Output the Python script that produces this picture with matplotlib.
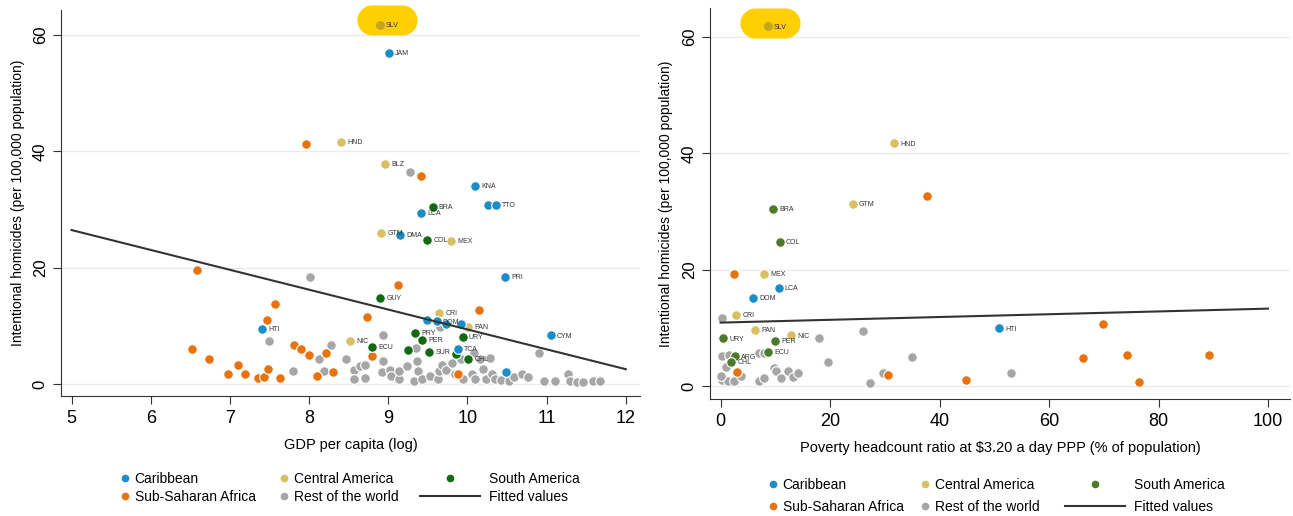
import numpy as np
import matplotlib.pyplot as plt
from matplotlib.path import Path
from matplotlib.lines import Line2D

plt.rcParams['font.family'] = ['Liberation Sans', 'DejaVu Sans']

# ---- left panel: GDP per capita (log) vs homicides ----
carib_gdp = [9.01, 10.10, 10.26, 10.36, 9.41, 9.15, 10.48, 9.49, 9.61, 9.73, 9.92, 7.41, 11.05, 9.88, 10.49]
carib_hom = [57.0, 34.1, 30.8, 30.8, 29.5, 25.7, 18.4, 11.1, 10.8, 10.4, 10.4, 9.5, 8.4, 6.1, 2.1]
carib_lab = ['JAM', 'KNA', '', 'TTO', 'LCA', 'DMA', 'PRI', '', 'DOM', '', '', 'HTI', 'CYM', 'TCA', '']

camer_gdp = [8.89, 8.40, 8.96, 8.91, 9.79, 9.64, 10.01, 8.52]
camer_hom = [61.8, 41.6, 37.8, 26.0, 24.7, 12.3, 9.8, 7.4]
camer_lab = ['SLV', 'HND', 'BLZ', 'GTM', 'MEX', 'CRI', 'PAN', 'NIC']

samer_gdp = [9.56, 9.49, 8.90, 9.34, 9.43, 9.94, 8.79, 9.25, 9.52, 9.85, 10.01]
samer_hom = [30.5, 24.8, 14.8, 8.9, 7.7, 8.2, 6.4, 5.9, 5.6, 5.2, 4.3]
samer_lab = ['BRA', 'COL', 'GUY', 'PRY', 'PER', 'URY', 'ECU', '', 'SUR', '', 'CHL']

ssa_gdp = [7.96, 9.41, 6.58, 9.12, 7.57, 10.15, 7.47, 8.73, 7.81, 7.90, 8.00, 8.21, 6.52,
           6.74, 8.79, 7.10, 6.98, 7.19, 7.36, 7.43, 7.48, 7.63, 8.10, 8.30, 9.88]
ssa_hom = [41.2, 35.8, 19.7, 17.0, 13.8, 12.7, 11.0, 11.5, 6.7, 6.1, 5.0, 5.4, 6.0,
           4.4, 4.8, 3.3, 1.8, 1.8, 1.1, 1.3, 2.6, 1.1, 1.4, 2.2, 1.8]

rest_gdp = [9.27, 8.01, 9.65, 8.93, 7.49, 8.28, 9.35, 10.16, 10.29, 10.91, 7.80, 8.13, 8.19,
            8.46, 8.57, 8.57, 8.64, 8.71, 8.70, 8.93, 8.92, 9.02, 9.03, 9.13, 9.14, 9.24,
            9.36, 9.37, 9.32, 9.43, 9.53, 9.63, 9.64, 9.68, 9.73, 9.80, 9.84, 9.92, 9.94,
            10.08, 10.06, 10.10, 10.20, 10.24, 10.31, 10.35, 10.43, 10.52, 10.59, 10.69,
            10.76, 10.97, 11.11, 11.27, 11.29, 11.39, 11.46, 11.58, 11.67]
rest_hom = [36.4, 18.5, 9.9, 8.4, 7.5, 6.7, 6.3, 4.4, 4.5, 5.3, 2.3, 4.3, 2.3,
            4.3, 2.4, 1.0, 3.1, 3.3, 1.1, 4.0, 2.2, 2.4, 1.4, 1.0, 2.3, 3.1,
            4.0, 2.3, 0.5, 0.9, 1.4, 1.0, 2.3, 3.3, 2.4, 3.7, 1.7, 4.3, 1.0,
            5.4, 1.7, 0.9, 2.6, 0.9, 1.7, 0.9, 0.7, 0.6, 1.3, 1.8,
            1.3, 0.6, 0.6, 1.8, 0.6, 0.4, 0.4, 0.5, 0.5]

fit_gdp = [5.0, 12.0]
fit_gdp_hom = [26.5, 2.6]

# ---- right panel: poverty headcount vs homicides ----
carib_pov = [10.6, 5.9, 50.9]
carib_hom2 = [16.9, 15.1, 9.9]
carib_lab2 = ['LCA', 'DOM', 'HTI']

camer_pov = [8.6, 31.7, 24.1, 7.9, 2.8, 6.3, 12.9]
camer_hom2 = [61.8, 41.7, 31.3, 19.3, 12.2, 9.7, 8.7]
camer_lab2 = ['SLV', 'HND', 'GTM', 'MEX', 'CRI', 'PAN', 'NIC']

samer_pov = [9.6, 10.8, 0.4, 9.9, 8.7, 2.6, 1.9]
samer_hom2 = [30.4, 24.8, 8.2, 7.7, 5.9, 5.1, 4.2]
samer_lab2 = ['BRA', 'COL', 'URY', 'PER', 'ECU', 'ARG', 'CHL']

ssa_pov = [37.7, 2.5, 69.9, 66.2, 74.3, 89.3, 3.0, 30.6, 44.8, 76.4]
ssa_hom2 = [32.7, 19.3, 10.7, 4.8, 5.3, 5.4, 2.4, 1.9, 1.0, 0.7]

rest_pov = [0.3, 17.9, 26.0, 7.0, 7.9, 0.3, 1.6, 0.9, 19.6, 34.9, 0.3, 1.4, 2.5,
            0.0, 3.8, 7.0, 7.9, 9.8, 10.1, 11.0, 12.3, 13.2, 14.1, 27.3, 29.7, 53.0]
rest_hom2 = [11.7, 8.2, 9.5, 5.7, 5.6, 5.1, 5.4, 3.3, 4.2, 5.0, 1.1, 0.9, 0.9,
             1.7, 1.7, 0.9, 1.3, 3.1, 2.6, 1.3, 2.5, 1.5, 2.3, 0.5, 2.2, 2.2]

fit_pov = [0.0, 100.0]
fit_pov_hom = [10.9, 13.3]

BLUE = '#1a8cc8'
GOLD = '#d8c060'
ORANGE = '#e8730c'
GREY = '#a6a6a6'
HILITE = '#ffd000'
DARK = '#333333'

# stadium shaped marker for the yellow highlight (2:1)
t1 = np.linspace(-np.pi / 2, np.pi / 2, 30)
t2 = np.linspace(np.pi / 2, 3 * np.pi / 2, 30)
stad = np.vstack([np.c_[0.5 + 0.5 * np.cos(t1), 0.5 * np.sin(t1)],
                  np.c_[-0.5 + 0.5 * np.cos(t2), 0.5 * np.sin(t2)]])
STADIUM = Path(np.vstack([stad, stad[:1]]), closed=True)


def scatter_group(ax, xs, ys, color, labels=None):
    ax.scatter(xs, ys, s=48, c=color, edgecolors='white', linewidths=0.8, zorder=3)
    if labels:
        for x, y, lab in zip(xs, ys, labels):
            if lab == 'SLV':
                # the highlighted point looks darker through the yellow blob
                ax.scatter([x], [y], s=30, c='#c6a61e', zorder=3.6, clip_on=False)
            if lab:
                ax.annotate(lab, (x, y), xytext=(4.5, -0.5), textcoords='offset points',
                            fontsize=5, color=DARK, va='center', zorder=4)


def panel(ax, groups, fit_x, fit_y, xlim, ylim, xticks, xlabel, slv):
    ax.scatter([slv[0]], [slv[1]], s=1870, marker=STADIUM, c=HILITE, linewidths=0,
               zorder=3.5, clip_on=False)
    for xs, ys, col, labs in groups:
        scatter_group(ax, xs, ys, col, labs)
    ax.plot(fit_x, fit_y, color=DARK, lw=1.5, zorder=5)
    ax.set_xlim(*xlim)
    ax.set_ylim(*ylim)
    ax.set_xticks(xticks)
    ax.set_yticks([0, 20, 40, 60])
    ax.grid(axis='y', color='#e4ecf1', lw=1)
    ax.set_axisbelow(True)
    for s in ['top', 'right']:
        ax.spines[s].set_visible(False)
    ax.spines['left'].set_color(DARK)
    ax.spines['bottom'].set_color(DARK)
    ax.tick_params(axis='x', labelsize=13, length=6, color=DARK, pad=4)
    ax.tick_params(axis='y', labelsize=12, length=6, color=DARK, labelrotation=90)
    for t in ax.get_yticklabels():
        t.set_va('center')
    ax.set_xlabel(xlabel, fontsize=10.5, labelpad=8)
    ax.set_ylabel('Intentional homicides (per 100,000 population)', fontsize=10, labelpad=6)


fig = plt.figure(figsize=(12.93, 5.16), dpi=100)
ax1 = fig.add_axes([0.0472, 0.2326, 0.4478, 0.748])
ax2 = fig.add_axes([0.549, 0.2273, 0.4486, 0.757])

panel(ax1,
      [(rest_gdp, rest_hom, GREY, None),
       (ssa_gdp, ssa_hom, ORANGE, None),
       (camer_gdp, camer_hom, GOLD, camer_lab),
       (samer_gdp, samer_hom, '#136a13', samer_lab),
       (carib_gdp, carib_hom, BLUE, carib_lab)],
      fit_gdp, fit_gdp_hom, (4.867, 12.18), (-2.0, 64.3), range(5, 13),
      'GDP per capita (log)', (8.985, 62.5))

panel(ax2,
      [(rest_pov, rest_hom2, GREY, None),
       (ssa_pov, ssa_hom2, ORANGE, None),
       (camer_pov, camer_hom2, GOLD, camer_lab2),
       (samer_pov, samer_hom2, '#4b7a2a', samer_lab2),
       (carib_pov, carib_hom2, BLUE, carib_lab2)],
      fit_pov, fit_pov_hom, (-1.96, 104.0), (-2.18, 64.95), range(0, 101, 20),
      'Poverty headcount ratio at $3.20 a day PPP (% of population)', (9.1, 62.4))


def dot(color):
    return Line2D([], [], ls='', marker='o', ms=4.5, color=color)


def legend(green, lefts, yc, spacing):
    # three columns, each placed on its own, as in the original
    cols = [([dot(BLUE), dot(ORANGE)], ['Caribbean', 'Sub-Saharan Africa'], 1.0, 0.2),
            ([dot(GOLD), dot(GREY)], ['Central America', 'Rest of the world'], 1.0, 0.2),
            ([dot(green), Line2D([], [], color=DARK, lw=1.5)],
             ['South America', 'Fitted values'], 4.3, 0.7)]
    for (h, labs, hl, pad), x in zip(cols, lefts):
        fig.legend(h, labs, loc='center left', bbox_to_anchor=(x / 1293, 1 - yc / 516),
                   frameon=False, fontsize=10, handlelength=hl, handletextpad=pad,
                   labelspacing=spacing, borderpad=0, borderaxespad=0)


legend('#136a13', [118, 277, 420], 488, 0.25)
legend('#4b7a2a', [766, 918, 1065], 496, 0.6)

fig.savefig('out.png', dpi=100)
